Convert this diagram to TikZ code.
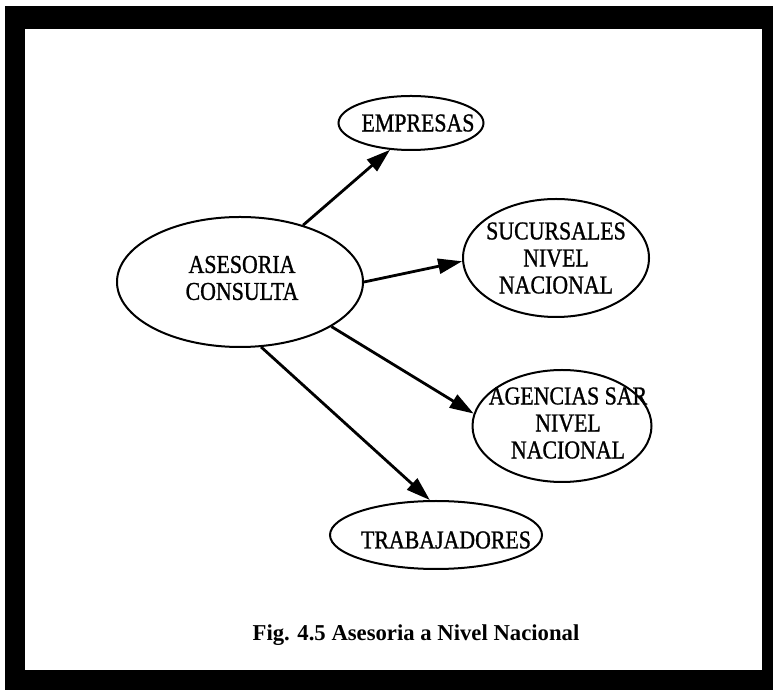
\documentclass[tikz,border=0pt]{standalone}
\usepackage{fontspec}
\setmainfont{Liberation Serif}
\newfontfamily\nodefont{Liberation Serif}[FakeStretch=0.85,FakeBold=1.0]
\usetikzlibrary{shapes.geometric,arrows.meta}
\begin{document}
\begin{tikzpicture}[x=1pt,y=1pt,
  bubble/.style={ellipse, draw, line width=2pt, inner sep=0pt},
  btext/.style={font=\nodefont\fontsize{25.7}{27}\selectfont, align=center, inner sep=0pt},
  link/.style={line width=2.8pt, -{Triangle[length=24pt,width=15pt]}}]
\fill[white] (0,0) rectangle (773,690);
\useasboundingbox (0,0) rectangle (773,690);
\fill[black] (5,0) rectangle (773,684);
\fill[white] (25,20) rectangle (762,661);
% ellipses
\node[bubble, minimum width=246pt, minimum height=130pt] (ase) at (240,408) {};
\node[bubble, minimum width=145pt, minimum height=54pt] (emp) at (411,567) {};
\node[bubble, minimum width=186pt, minimum height=118pt] (suc) at (556,432) {};
\node[bubble, minimum width=179pt, minimum height=112pt] (age) at (562,264) {};
\node[bubble, minimum width=212pt, minimum height=68pt] (tra) at (436,155) {};
% texts
\node[btext] (aset) at (242,412) {ASESORIA\\CONSULTA};
\node[btext] (empt) at (418,567) {EMPRESAS};
\node[btext] (suct) at (556,432) {SUCURSALES\\NIVEL\\NACIONAL};
\node[btext] (aget) at (568,267) {AGENCIAS SAR\\NIVEL\\NACIONAL};
\node[btext] (trat) at (446,150) {TRABAJADORES};
% arrows
\draw[link] (ase.42) -- (emp.232);
\draw[link] (ase.0) -- (suc.182);
\draw[link] (ase.-26) -- (age.172);
\draw[link] (ase.-72) -- (tra.100);
% caption
\node[font=\bfseries\fontsize{22.7}{24}\selectfont, inner sep=0pt] (cap) at (416,55) {Fig. 4.5 Asesoria a Nivel Nacional};
\end{tikzpicture}
\end{document}
